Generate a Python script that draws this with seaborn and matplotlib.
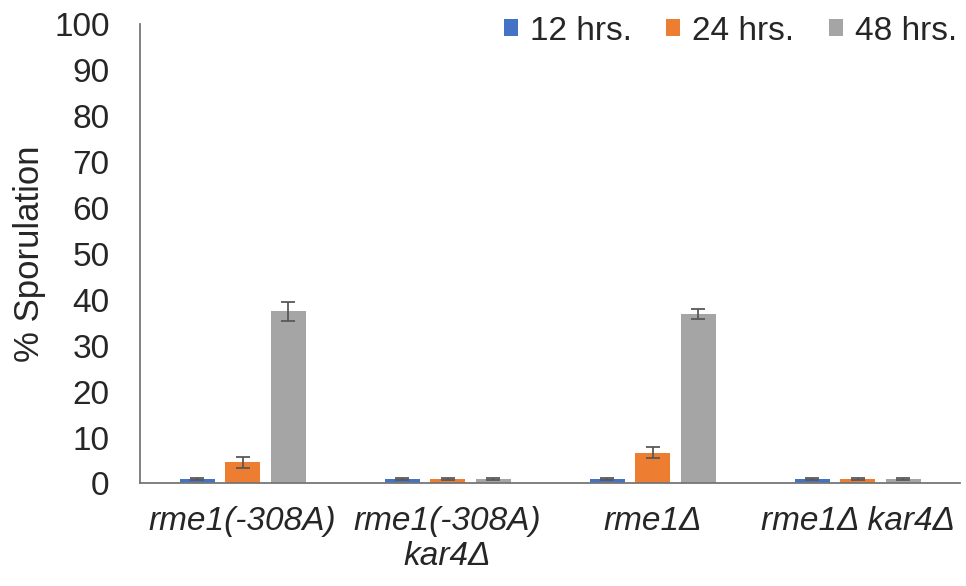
import pandas as pd
import matplotlib
matplotlib.use("Agg")
import matplotlib.pyplot as plt
import seaborn as sns

# values
strains = ["rme1(-308A)", "rme1(-308A)\nkar4Δ", "rme1Δ", "rme1Δ kar4Δ"]
times = ["12 hrs.", "24 hrs.", "48 hrs."]
spor_12 = [1.0, 1.0, 1.0, 1.0]
spor_24 = [4.6, 1.0, 6.7, 1.0]
spor_48 = [37.5, 1.0, 36.9, 1.0]
err_12 = [0.15, 0.15, 0.15, 0.15]
err_24 = [1.2, 0.15, 1.2, 0.15]
err_48 = [2.1, 0.15, 1.0, 0.15]

colors = ["#4472C4", "#ED7D31", "#A5A5A5"]

rows = []
for t, vals, errs in zip(times, [spor_12, spor_24, spor_48], [err_12, err_24, err_48]):
    for s, v, e in zip(strains, vals, errs):
        rows.append({"strain": s, "time": t, "value": v, "err": e})
df = pd.DataFrame(rows)

sns.set_style("white")
plt.rcParams["font.family"] = ["Liberation Sans", "DejaVu Sans"]

fig = plt.figure(figsize=(9.66, 5.86), dpi=100)
ax = fig.add_axes([0.145, 0.175, 0.849, 0.784])

sns.barplot(
    data=df, x="strain", y="value", hue="time", order=strains, hue_order=times,
    palette=colors, width=0.666, gap=0.23, errorbar=None, saturation=1,
    edgecolor="none", ax=ax,
)

# error bars on top of each bar, matched to the bars seaborn drew
for container, t in zip(ax.containers, times):
    sub = df[df["time"] == t].set_index("strain").loc[strains]
    xs = [p.get_x() + p.get_width() / 2 for p in container.patches]
    ax.errorbar(xs, sub["value"], yerr=sub["err"], fmt="none",
                ecolor="#595959", elinewidth=1.3, capsize=5, capthick=1.3)

ax.set_ylim(0, 100)
ax.set_yticks(range(0, 101, 10))
ax.set_xlim(-0.5, 3.5)
ax.tick_params(axis="y", labelsize=24, length=0, pad=22, colors="#262626")
ax.tick_params(axis="x", labelsize=24, length=0, pad=16, colors="#262626")
for lab in ax.get_xticklabels():
    lab.set_fontstyle("italic")
ax.set_xlabel("")
ax.set_ylabel("% Sporulation", fontsize=25, color="#262626", labelpad=6)

for side in ["top", "right"]:
    ax.spines[side].set_visible(False)
for side in ["left", "bottom"]:
    ax.spines[side].set_color("#767676")
    ax.spines[side].set_linewidth(1.3)

ax.legend(loc="upper right", bbox_to_anchor=(1.013, 1.047), ncol=3, frameon=False,
          fontsize=24, handlelength=0.42, handleheight=0.42, handletextpad=0.36,
          columnspacing=1.05, borderaxespad=0)

fig.savefig("out.png", dpi=100)
